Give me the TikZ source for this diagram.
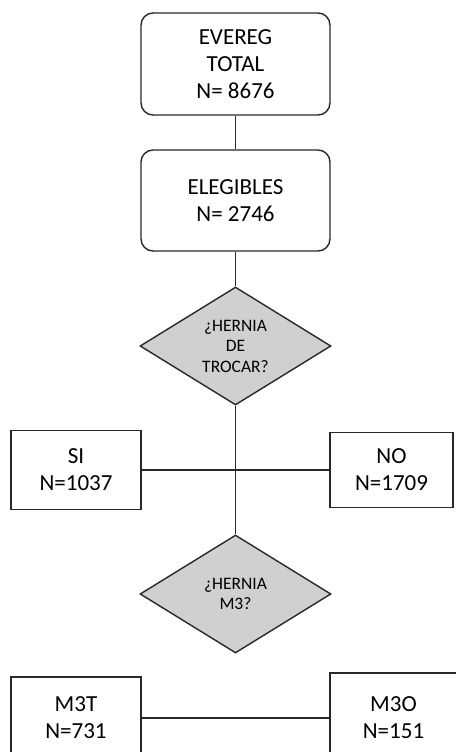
\documentclass[tikz,border=0pt]{standalone}
\usepackage{fontspec}
\setmainfont{Carlito}
\usetikzlibrary{shapes.geometric}

\begin{document}
\begin{tikzpicture}[x=1pt,y=1pt,yscale=-1,xscale=1,
  linea/.style={color={rgb, 255:red, 40; green, 40; blue, 40 },line width=1.4},
  caja/.style={linea,draw,fill=white,text=black,inner sep=0,align=center,font=\fontsize{23}{27}\selectfont},
  cajaredonda/.style={caja,rounded corners=12},
  pregunta/.style={linea,draw,fill={rgb, 255:red, 208; green, 208; blue, 208 },text=black,diamond,aspect=1.6,inner sep=0,
    minimum width=191,minimum height=118,align=center,font=\fontsize{17.5}{20.5}\selectfont}]
%set diagram size
\useasboundingbox (0,0) rectangle (455,752);

%Rounded Rect [id:total] 
\node [cajaredonda,minimum width=189,minimum height=102] (total) at (235.5,64) {EVEREG\\TOTAL\\N= 8676};
%Rounded Rect [id:elegibles] 
\node [cajaredonda,minimum width=189,minimum height=101] (eleg) at (235.5,200.5) {ELEGIBLES\\N= 2746};
%Shape: Diamond [id:trocar] 
\node [pregunta] (trocar) at (235.5,346) {¿HERNIA\\DE\\TROCAR?};
%Shape: Rectangle [id:si] 
\node [caja,minimum width=130,minimum height=79] (si) at (76,470) {SI\\N=1037};
%Shape: Rectangle [id:no] 
\node [caja,minimum width=123,minimum height=75] (no) at (391.5,470) {NO\\N=1709};
%Shape: Diamond [id:m3] 
\node [pregunta] (m3) at (235.5,594) {¿HERNIA\\M3?};
%Shape: Rectangle [id:m3t] 
\node [caja,minimum width=130,minimum height=82] (m3t) at (76,718) {M3T\\N=731};
%Shape: Rectangle [id:m3o] 
\node [caja,minimum width=127,minimum height=90] (m3o) at (393.5,718) {M3O\\N=151};

%Straight Lines 
\draw [linea] (total) -- (eleg) ;
\draw [linea] (eleg) -- (trocar) ;
\draw [linea] (trocar) -- (m3) ;
\draw [linea] (si) -- (no) ;
\draw [linea] (m3t) -- (m3o) ;

\end{tikzpicture}
\end{document}
